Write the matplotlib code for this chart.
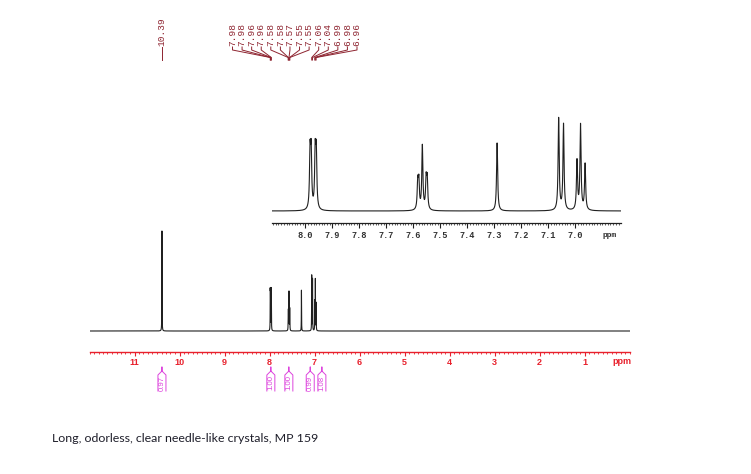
import numpy as np
import matplotlib
matplotlib.use("Agg")
import matplotlib.pyplot as plt
from matplotlib.lines import Line2D

# ---------------- data ----------------
# peak list (ppm) and relative intensities
peak_ppm = [10.390, 7.983, 7.979, 7.964, 7.960,
            7.584, 7.580, 7.567, 7.553, 7.549,
            7.290,
            7.062, 7.044, 6.994, 6.981, 6.964]
peak_int = [166.7, 55, 55, 55, 55,
            27, 27, 64, 29, 29,
            68,
            92, 86, 49, 85, 46]
peak_hwhm = 0.0024

# peak annotations at top
label_ppm = [10.390]
label_txt = ["10.39"]
group_ppm = [7.983, 7.979, 7.964, 7.960, 7.584, 7.580, 7.567, 7.553, 7.549,
             7.062, 7.044, 6.994, 6.981, 6.964]
group_txt = ["7.98", "7.98", "7.96", "7.96", "7.58", "7.58", "7.57", "7.55", "7.55",
             "7.06", "7.04", "6.99", "6.98", "6.96"]

# integrals
integral_ppm = [10.39, 7.97, 7.57, 7.095, 6.836]
integral_val = ["0.97", "1.00", "1.00", "0.99", "1.08"]

main_ticks = [1, 2, 3, 4, 5, 6, 7, 8, 9, 10, 11]
inset_ticks = [8.0, 7.9, 7.8, 7.7, 7.6, 7.5, 7.4, 7.3, 7.2, 7.1, 7.0]

caption = "Long, odorless, clear needle-like crystals, MP 159"

# ---------------- spectrum ----------------
x = np.linspace(12.0, 0.0, 60001)
y = np.zeros_like(x)
for p, a in zip(peak_ppm, peak_int):
    y += a / (1.0 + ((x - p) / peak_hwhm) ** 2)

W, H = 751, 474
fig = plt.figure(figsize=(W / 100, H / 100), dpi=100)
fig.patch.set_facecolor("white")

def fx(px):
    return px / W

def fy(py):
    return 1 - py / H

RED = "#e8202c"
MAROON = "#8e2430"
MAG = "#dd44dd"

# main axes
m_left, m_right, m_bottom, m_top = 89.5, 629.5, 351.5, 225.0
ax = fig.add_axes([fx(m_left), fy(m_bottom), (m_right - m_left) / W, (m_bottom - m_top) / H])
scale = 0.6  # px per intensity unit
base_off = 20.5
ax.plot(x, y, color="#202020", lw=0.8)
ax.set_xlim(12, 0)
ax.set_ylim(-base_off / scale, (m_bottom - m_top - base_off) / scale)
for s in ["top", "left", "right"]:
    ax.spines[s].set_visible(False)
ax.spines["bottom"].set_color(RED)
ax.spines["bottom"].set_linewidth(1.0)
ax.set_yticks([])
ax.set_xticks(main_ticks)
ax.set_xticklabels([str(t) for t in main_ticks])
ax.set_xticks(np.arange(0, 12.01, 0.1), minor=True)
ax.tick_params(axis="x", which="major", direction="out", length=3.2, width=0.8,
               color=RED, labelcolor=RED, labelsize=6.5, pad=1.4)
ax.tick_params(axis="x", which="minor", direction="out", length=1.5, width=0.6, color=RED)
for lab in ax.get_xticklabels():
    lab.set_fontweight("bold")
    lab.set_family("Liberation Sans")
fig.text(fx(621.5), fy(361.5), "ppm", color=RED, fontsize=6.5, fontweight="bold",
         family="Liberation Sans", ha="center", va="center")

# inset axes
i_left, i_right, i_bottom, i_top = 272.0, 621.0, 222.5, 110.0
ax2 = fig.add_axes([fx(i_left), fy(i_bottom), (i_right - i_left) / W, (i_bottom - i_top) / H])
ax2.plot(x, y, color="#202020", lw=0.8)
ax2.set_xlim(8.124, 6.831)
ax2.set_ylim(-11.5, i_bottom - i_top - 11.5)
for s in ["top", "left", "right"]:
    ax2.spines[s].set_visible(False)
ax2.spines["bottom"].set_color("#202020")
ax2.spines["bottom"].set_linewidth(0.9)
ax2.set_yticks([])
ax2.set_xticks(inset_ticks)
ax2.set_xticklabels([f"{t:.1f}" for t in inset_ticks])
ax2.set_xticks(np.arange(6.84, 8.125, 0.01), minor=True)
ax2.tick_params(axis="x", which="major", direction="out", length=3.5, width=0.8,
                color="#202020", labelcolor="#303030", labelsize=6.2, pad=2.6)
ax2.tick_params(axis="x", which="minor", direction="out", length=1.6, width=0.5, color="#202020")
for lab in ax2.get_xticklabels():
    lab.set_fontweight("bold")
    lab.set_family("Liberation Mono")
fig.text(fx(610), fy(235.5), "ppm", color="#303030", fontsize=5.8, fontweight="bold",
         family="Liberation Mono", ha="center", va="center")

# peak labels
def ppm_to_px(p):
    return m_left + (12 - p) / 12 * (m_right - m_left)

def add_line(xs, ys, color):
    fig.add_artist(Line2D([fx(v) for v in xs], [fy(v) for v in ys], color=color, lw=0.7,
                          transform=fig.transFigure))

for p, t in zip(label_ppm, label_txt):
    px = ppm_to_px(p)
    fig.text(fx(px), fy(46), t, rotation=90, ha="center", va="bottom", color=MAROON,
             fontsize=6.8, family="Liberation Mono")
    add_line([px, px], [47, 60], MAROON)

n = len(group_ppm)
for i, (p, t) in enumerate(zip(group_ppm, group_txt)):
    lx = 232.5 + i * (357 - 232.5) / (n - 1)
    px = ppm_to_px(p)
    fig.text(fx(lx), fy(46), t, rotation=90, ha="center", va="bottom", color=MAROON,
             fontsize=6.8, family="Liberation Mono")
    add_line([lx, lx, px, px], [47, 50, 57.5, 60], MAROON)

# integrals
for p, v in zip(integral_ppm, integral_val):
    cx = ppm_to_px(p)
    add_line([cx - 4, cx - 4, cx, cx, cx, cx + 4, cx + 4],
             [391, 375, 371, 367, 371, 375, 391], MAG)
    fig.text(fx(cx), fy(383), v, rotation=90, ha="center", va="center", color=MAG,
             fontsize=5.6, family="Liberation Sans")

fig.text(fx(52), fy(438), caption, ha="left", va="center", color="#1e1e2a",
         fontsize=8.9, family="Lato")

fig.savefig("out.png", dpi=100, facecolor="white")
